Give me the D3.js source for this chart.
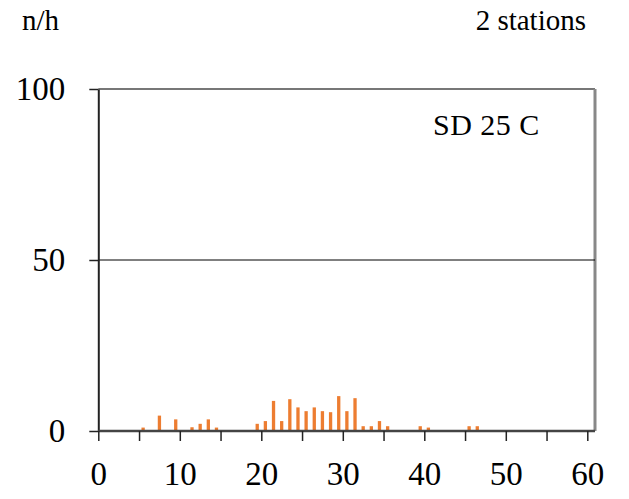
<!DOCTYPE html>
<html><head><meta charset="utf-8">
<script src="https://cdn.jsdelivr.net/npm/d3@7"></script>
<style>html,body{margin:0;padding:0;background:#fff}svg{display:block}</style>
</head><body>
<script>
const bins = [5,7,9,11,12,13,14,19,20,21,22,23,24,25,26,27,28,29,30,31,32,33,34,35,39,40,45,46];
const counts = [1.0,4.5,3.4,1.1,2.1,3.4,1.0,2.1,2.9,8.8,2.9,9.3,6.9,5.8,6.9,5.8,5.5,10.2,5.8,9.6,1.4,1.4,2.9,1.4,1.4,1.0,1.4,1.4];
const xTicks = [0,10,20,30,40,50,60];
const yTicks = [0,50,100];
const title = "SD 25 C", unitLabel = "n/h", stationLabel = "2 stations";

const FONT = "'Liberation Serif','Times New Roman',serif";
const W = 629, H = 499;
const svg = d3.select("body").append("svg").attr("width", W).attr("height", H)
  .style("font-family", FONT);
const mLeft = 98.3, mRight = 595, mTop = 89, mBottom = 431;
const x = d3.scaleLinear().domain([0,60]).range([mLeft, 587.3]);
const y = d3.scaleLinear().domain([0,100]).range([mBottom, mTop]);

// frame top & right
svg.append("line").attr("x1", mLeft).attr("x2", mRight).attr("y1", mTop).attr("y2", mTop)
  .attr("stroke", "#777").attr("stroke-width", 2);
svg.append("line").attr("x1", mRight).attr("x2", mRight).attr("y1", mTop).attr("y2", mBottom)
  .attr("stroke", "#888").attr("stroke-width", 3);
// gridline at 50
svg.append("line").attr("x1", mLeft).attr("x2", mRight).attr("y1", y(50)).attr("y2", y(50))
  .attr("stroke", "#000").attr("stroke-width", 1);

// bars
const bw = 3.3;
svg.append("g").selectAll("rect").data(bins).join("rect")
  .attr("x", (d) => x(d + 0.5) - bw/2)
  .attr("width", bw)
  .attr("y", (d,i) => y(counts[i]))
  .attr("height", (d,i) => y(0) - y(counts[i]))
  .attr("fill", "#ED7D31");

// y axis
const yAxis = svg.append("g").attr("transform", `translate(${mLeft},0)`)
  .call(d3.axisLeft(y).tickValues(yTicks).tickSize(9).tickPadding(24).tickSizeOuter(0));
yAxis.attr("font-family", FONT);
yAxis.select(".domain").attr("stroke", "#222").attr("stroke-width", 2);
yAxis.selectAll(".tick line").attr("stroke", "#222").attr("stroke-width", 1.5);
yAxis.selectAll(".tick text").attr("font-size", 33).attr("fill", "#000")
  .attr("font-family", FONT).attr("dy", "0.32em");

// x axis
const xAxis = svg.append("g").attr("transform", `translate(0,${mBottom})`)
  .call(d3.axisBottom(x).tickValues(d3.range(0,61,5)).tickSize(10).tickSizeOuter(0)
    .tickFormat(d => xTicks.includes(d) ? d : ""));
xAxis.attr("font-family", FONT);
xAxis.select(".domain").attr("stroke", "#444").attr("stroke-width", 2.5)
  .attr("d", `M${mLeft},0H${mRight}`);
xAxis.selectAll(".tick line").attr("stroke", "#222").attr("stroke-width", 1.5);
xAxis.selectAll(".tick text").attr("font-size", 33).attr("fill", "#000")
  .attr("font-family", FONT).attr("y", 31).attr("dy", "0.71em");

// labels
svg.append("text").attr("x", 22).attr("y", 30).attr("font-size", 29).attr("font-family", FONT).text(unitLabel);
svg.append("text").attr("x", 586).attr("y", 30).attr("font-size", 29).attr("font-family", FONT)
  .attr("text-anchor", "end").text(stationLabel);
svg.append("text").attr("x", 433).attr("y", 135).attr("font-size", 30).attr("letter-spacing", 0.5)
  .attr("font-family", FONT).text(title);
</script>
</body></html>
